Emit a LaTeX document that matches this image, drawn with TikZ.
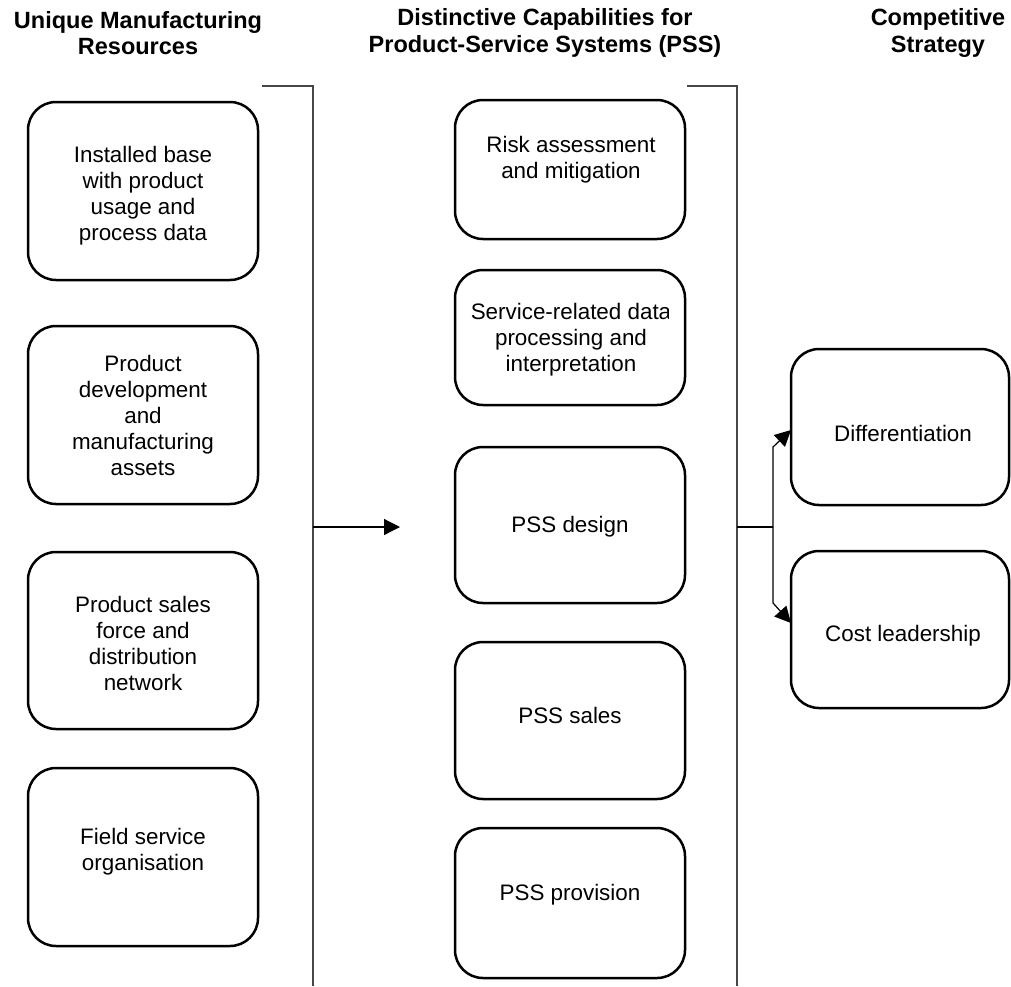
\documentclass[tikz,border=0pt]{standalone}
\usepackage{fontspec}
\setmainfont{Liberation Sans}
\usetikzlibrary{arrows.meta}
\begin{document}
\begin{tikzpicture}[x=1pt,y=-1pt,
  box/.style={draw=black,line width=2.5pt,rounded corners=28pt,rectangle,inner sep=0pt},
  lbl/.style={align=center,inner sep=0pt,font=\fontsize{22.4}{26}\selectfont},
  head/.style={align=center,inner sep=0pt,font=\bfseries\fontsize{23.5}{26.5}\selectfont},
  bracket/.style={draw=black!72,line width=1.4pt},
  conn/.style={draw=black,line width=1.2pt},
  tip/.style={-{Triangle[length=16pt,width=16pt]}}
]
\useasboundingbox (0,0) rectangle (1011,986);

% headers
\node[head] (h1) at (138,33) {Unique Manufacturing\\Resources};
\node[head] (h2) at (545,33) {Distinctive Capabilities for\\Product-Service Systems (PSS)};
\node[head] (h3) at (938,33) {Competitive\\Strategy};

% left column boxes
\node[box,minimum width=230pt,minimum height=178pt] (l1) at (143,191) {};
\node[box,minimum width=230pt,minimum height=178pt] (l2) at (143,415) {};
\node[box,minimum width=230pt,minimum height=177pt] (l3) at (143,640.5) {};
\node[box,minimum width=230pt,minimum height=178pt] (l4) at (143,857) {};
\node[lbl] (l1t) at (143,196) {Installed base\\with product\\usage and\\process data};
\node[lbl] (l2t) at (143,415) {Product\\development\\and\\manufacturing\\assets};
\node[lbl] (l3t) at (143,643) {Product sales\\force and\\distribution\\network};
\node[lbl] (l4t) at (143,852) {Field service\\organisation};

% middle column boxes
\node[box,minimum width=230pt,minimum height=139pt] (m1) at (570,169.5) {};
\node[box,minimum width=230pt,minimum height=135pt] (m2) at (570,337.5) {};
\node[box,minimum width=230pt,minimum height=156pt] (m3) at (570,525) {};
\node[box,minimum width=230pt,minimum height=157pt] (m4) at (570,720.5) {};
\node[box,minimum width=230pt,minimum height=150pt] (m5) at (570,903) {};
\node[lbl] (m1t) at (571,160) {Risk assessment\\and mitigation};
\begin{scope}
  \clip (455,250) rectangle (668,420);
  \node[lbl] (m2t) at (571,340) {Service-related data\\processing and\\interpretation};
\end{scope}
\node[lbl] (m3t) at (570,527) {PSS design};
\node[lbl] (m4t) at (570,715) {PSS sales};
\node[lbl] (m5t) at (570,895) {PSS provision};

% right column boxes
\node[box,minimum width=218pt,minimum height=156pt] (r1) at (900,427) {};
\node[box,minimum width=218pt,minimum height=157pt] (r2) at (900,629.5) {};
\node[lbl] (r1t) at (903,433) {Differentiation};
\node[lbl] (r2t) at (903,636) {Cost leadership};

% left bracket and arrow
\coordinate (b1t) at (262,86);
\coordinate (b1c) at (313,86);
\coordinate (b1b) at (313,986);
\coordinate (b1m) at (313,527);
\coordinate (a1) at (400,527);
\draw[bracket] (b1t) -- (b1c) -- (b1b);
\draw[conn,tip] (b1m) -- (a1);

% middle bracket and split arrows
\coordinate (b2t) at (687,86);
\coordinate (b2c) at (737,86);
\coordinate (b2b) at (737,986);
\coordinate (b2m) at (737,527);
\coordinate (j) at (773,527);
\coordinate (ju) at (773,447);
\coordinate (jd) at (773,603);
\coordinate (t1) at (791,430);
\coordinate (t2) at (791,623);
\draw[bracket] (b2t) -- (b2c) -- (b2b);
\draw[conn] (b2m) -- (j);
\draw[conn,tip] (j) -- (ju) -- (t1);
\draw[conn,tip] (j) -- (jd) -- (t2);
\end{tikzpicture}
\end{document}
